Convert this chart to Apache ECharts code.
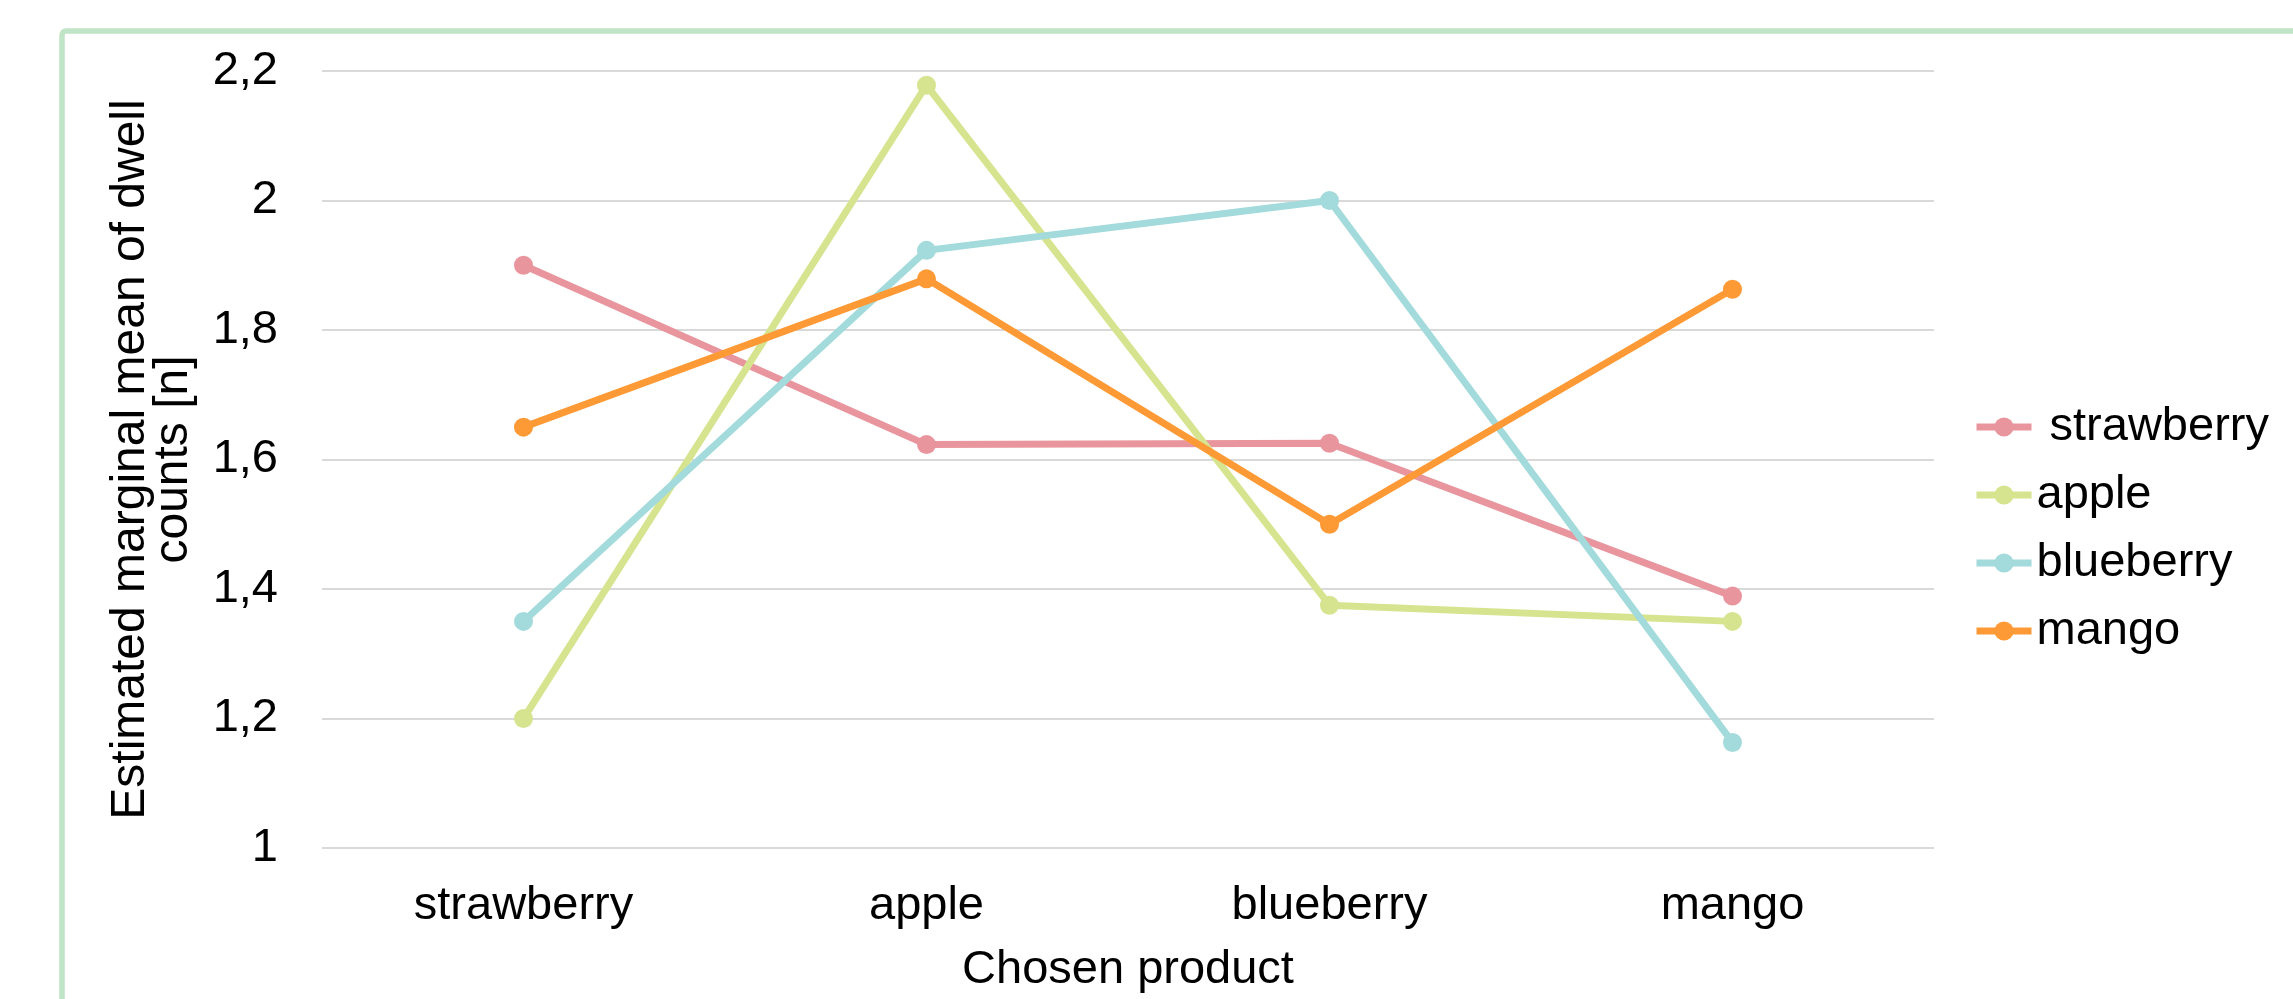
<!DOCTYPE html>
<html>
<head>
<meta charset="utf-8">
<title>Estimated marginal mean of dwell counts</title>
<script src="https://cdn.jsdelivr.net/npm/echarts@6/dist/echarts.min.js"></script>
<style>
  html, body { margin: 0; padding: 0; background: #ffffff; }
  #chart { width: 2293px; height: 999px; }
</style>
</head>
<body>
<div id="chart"></div>
<script>
// Chosen product on the x axis; one line per product group
const categories = ['strawberry', 'apple', 'blueberry', 'mango'];
const seriesNames = ['strawberry', 'apple', 'blueberry', 'mango'];

const strawberryValues = [1.900, 1.623, 1.625, 1.389];
const appleValues      = [1.200, 2.178, 1.375, 1.350];
const blueberryValues  = [1.350, 1.923, 2.000, 1.163];
const mangoValues      = [1.650, 1.879, 1.500, 1.863];

const yTicks = [1, 1.2, 1.4, 1.6, 1.8, 2, 2.2];

const colors = ['#e9959e', '#d6e48f', '#a3dadb', '#fe9a36'];
const valueSets = [strawberryValues, appleValues, blueberryValues, mangoValues];

const FONT = '"Liberation Sans", Arial, sans-serif';
const FS = 47;

const chart = echarts.init(document.getElementById('chart'), null, { renderer: 'canvas' });

const series = seriesNames.map((name, i) => ({
  name: name,
  type: 'line',
  data: valueSets[i],
  symbol: 'circle',
  symbolSize: 19,
  showSymbol: true,
  lineStyle: { width: 7, color: colors[i] },
  itemStyle: { color: colors[i] },
  emphasis: { disabled: true },
  z: 3 + i
}));

chart.setOption({
  animation: false,
  backgroundColor: '#ffffff',
  graphic: [{
    type: 'rect',
    x: 0, y: 0,
    shape: { x: 62, y: 31, width: 3000, height: 2000, r: 4 },
    style: { fill: 'none', stroke: '#bfe4c6', lineWidth: 5.5 },
    silent: true,
    z: 100
  }],
  grid: { left: 322, right: 359, top: 71, bottom: 150, containLabel: false },
  legend: {
    orient: 'vertical',
    left: 1973,
    top: 402,
    padding: 0,
    itemWidth: 55,
    itemHeight: 24,
    itemGap: 18,
    data: seriesNames,
    lineStyle: { width: 7 },
    formatter: name => name === 'strawberry' ? ' ' + name : name,
    textStyle: { fontFamily: FONT, fontSize: FS, color: '#000000', lineHeight: 50 }
  },
  xAxis: {
    type: 'category',
    data: categories,
    boundaryGap: true,
    axisLine: { show: false },
    axisTick: { show: false },
    axisLabel: { fontFamily: FONT, fontSize: FS, color: '#000000', margin: 35 },
    name: 'Chosen product',
    nameLocation: 'middle',
    nameGap: 99,
    nameTextStyle: { fontFamily: FONT, fontSize: FS, color: '#000000' }
  },
  yAxis: {
    type: 'value',
    min: yTicks[0],
    max: yTicks[yTicks.length - 1],
    interval: 0.2,
    axisLine: { show: false },
    axisTick: { show: false },
    splitLine: { lineStyle: { color: '#d9d9d9', width: 2 } },
    axisLabel: {
      fontFamily: FONT, fontSize: FS, color: '#000000', margin: 44,
      formatter: v => String(+v.toFixed(1)).replace('.', ',')
    },
    name: 'Estimated marginal mean of dwell\ncounts [n]',
    nameLocation: 'middle',
    nameGap: 127,
    nameTextStyle: { fontFamily: FONT, fontSize: 48, color: '#000000', lineHeight: 43, align: 'center' }
  },
  series: series
});
</script>
</body>
</html>
